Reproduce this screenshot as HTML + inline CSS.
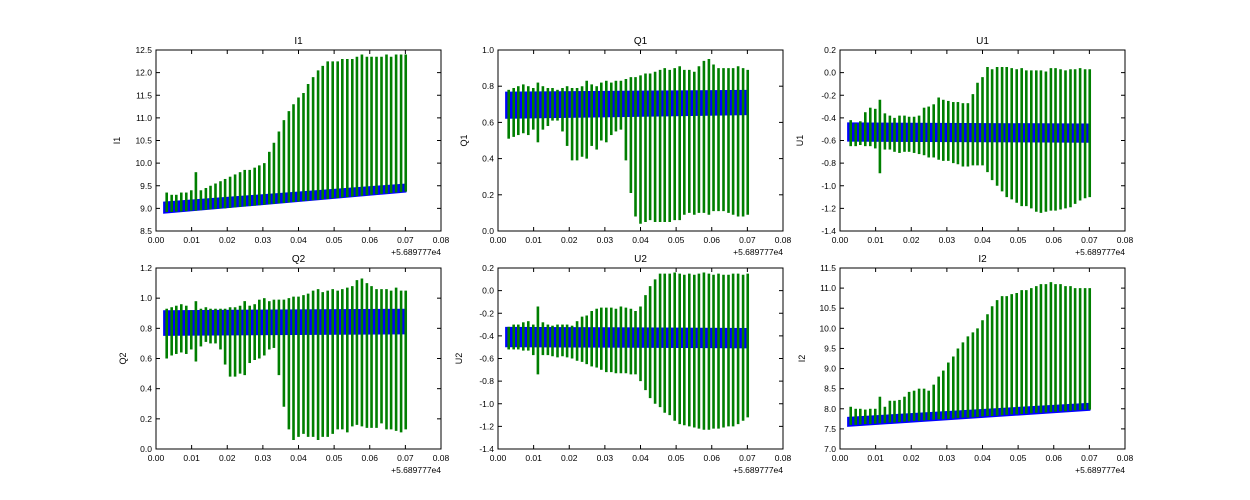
<!DOCTYPE html>
<html><head><meta charset="utf-8"><style>
html,body{margin:0;padding:0;background:#fff;width:1250px;height:500px;overflow:hidden}
svg text{font-family:"Liberation Sans",sans-serif;fill:#000}
</style></head><body>
<svg id="fig" width="1250" height="500" xmlns="http://www.w3.org/2000/svg"></svg>
<script>
const times=[0.0030,0.0044,0.0057,0.0071,0.0085,0.0099,0.0112,0.0126,0.0140,0.0153,0.0167,0.0181,0.0194,0.0208,0.0222,0.0236,0.0249,0.0263,0.0277,0.0290,0.0304,0.0318,0.0331,0.0345,0.0359,0.0373,0.0386,0.0400,0.0414,0.0427,0.0441,0.0455,0.0468,0.0482,0.0496,0.0510,0.0523,0.0537,0.0551,0.0564,0.0578,0.0592,0.0605,0.0619,0.0633,0.0647,0.0660,0.0674,0.0688,0.0701];
const xTicks=[0.00,0.01,0.02,0.03,0.04,0.05,0.06,0.07,0.08];
const xTickLabels=["0.00","0.01","0.02","0.03","0.04","0.05","0.06","0.07","0.08"];
const panelNames=["I1","Q1","U1","Q2","U2","I2"];
const I1hi=[9.35,9.3,9.3,9.35,9.35,9.4,9.8,9.4,9.45,9.5,9.55,9.6,9.65,9.7,9.75,9.8,9.85,9.85,9.9,9.95,10.0,10.25,10.45,10.7,10.95,11.15,11.3,11.45,11.55,11.75,11.9,12.05,12.15,12.25,12.25,12.25,12.3,12.3,12.3,12.35,12.4,12.35,12.35,12.35,12.35,12.4,12.35,12.4,12.4,12.4];
const I1lo=[8.92,8.92,8.93,8.93,8.94,8.95,8.95,8.96,8.97,8.98,8.99,9.0,9.0,9.01,9.02,9.03,9.04,9.05,9.06,9.07,9.08,9.09,9.1,9.11,9.12,9.13,9.14,9.15,9.16,9.17,9.18,9.19,9.2,9.21,9.22,9.23,9.24,9.25,9.26,9.27,9.28,9.29,9.3,9.31,9.32,9.33,9.34,9.35,9.36,9.37];
const I1band=[8.88,9.15,9.35,9.55];
const Q1hi=[0.78,0.79,0.8,0.81,0.8,0.79,0.82,0.8,0.79,0.79,0.78,0.79,0.8,0.79,0.79,0.8,0.83,0.81,0.8,0.82,0.83,0.82,0.83,0.83,0.84,0.85,0.85,0.86,0.87,0.87,0.88,0.89,0.9,0.89,0.9,0.91,0.89,0.89,0.88,0.91,0.94,0.95,0.92,0.9,0.9,0.9,0.9,0.91,0.9,0.89];
const Q1lo=[0.51,0.52,0.53,0.54,0.53,0.56,0.49,0.56,0.58,0.61,0.61,0.55,0.47,0.39,0.39,0.41,0.4,0.47,0.45,0.5,0.49,0.53,0.55,0.56,0.39,0.21,0.08,0.04,0.05,0.06,0.05,0.05,0.05,0.05,0.06,0.06,0.09,0.1,0.09,0.1,0.1,0.09,0.11,0.11,0.11,0.1,0.09,0.08,0.08,0.09];
const Q1band=[0.62,0.77,0.64,0.78];
const U1hi=[-0.42,-0.45,-0.43,-0.35,-0.31,-0.32,-0.24,-0.36,-0.38,-0.4,-0.38,-0.38,-0.39,-0.39,-0.38,-0.31,-0.3,-0.28,-0.22,-0.24,-0.25,-0.26,-0.26,-0.27,-0.27,-0.19,-0.09,-0.04,0.05,0.03,0.05,0.05,0.05,0.04,0.03,0.04,0.02,0.02,0.02,0.02,0.01,0.04,0.04,0.03,0.02,0.03,0.03,0.04,0.03,0.03];
const U1lo=[-0.65,-0.65,-0.64,-0.65,-0.65,-0.67,-0.89,-0.68,-0.68,-0.7,-0.71,-0.7,-0.7,-0.71,-0.72,-0.73,-0.75,-0.75,-0.77,-0.78,-0.78,-0.8,-0.81,-0.83,-0.83,-0.82,-0.82,-0.82,-0.88,-0.95,-1.0,-1.05,-1.1,-1.12,-1.15,-1.18,-1.18,-1.2,-1.23,-1.24,-1.23,-1.22,-1.22,-1.21,-1.2,-1.19,-1.16,-1.13,-1.11,-1.1];
const U1band=[-0.61,-0.44,-0.62,-0.45];
const Q2hi=[0.93,0.94,0.95,0.96,0.95,0.92,0.98,0.93,0.94,0.93,0.93,0.93,0.93,0.94,0.94,0.95,0.98,0.95,0.96,0.99,1.0,0.98,0.99,0.99,0.99,1.0,1.01,1.01,1.02,1.03,1.05,1.06,1.04,1.05,1.06,1.05,1.06,1.07,1.08,1.12,1.13,1.1,1.08,1.06,1.06,1.06,1.05,1.07,1.05,1.05];
const Q2lo=[0.6,0.62,0.63,0.64,0.63,0.66,0.58,0.68,0.71,0.7,0.7,0.66,0.56,0.48,0.48,0.5,0.49,0.57,0.59,0.6,0.62,0.66,0.67,0.49,0.28,0.13,0.06,0.08,0.1,0.08,0.08,0.06,0.08,0.08,0.1,0.13,0.13,0.11,0.15,0.16,0.15,0.14,0.14,0.14,0.17,0.13,0.13,0.12,0.11,0.13];
const Q2band=[0.75,0.92,0.76,0.93];
const U2hi=[-0.32,-0.3,-0.3,-0.28,-0.27,-0.3,-0.14,-0.28,-0.3,-0.31,-0.3,-0.3,-0.3,-0.31,-0.27,-0.23,-0.22,-0.18,-0.16,-0.15,-0.15,-0.15,-0.16,-0.14,-0.15,-0.16,-0.18,-0.14,-0.04,0.04,0.1,0.15,0.15,0.15,0.16,0.15,0.14,0.15,0.14,0.15,0.16,0.15,0.14,0.15,0.14,0.14,0.15,0.15,0.14,0.15];
const U2lo=[-0.52,-0.52,-0.52,-0.53,-0.53,-0.57,-0.74,-0.57,-0.57,-0.58,-0.59,-0.58,-0.59,-0.6,-0.62,-0.63,-0.65,-0.67,-0.68,-0.7,-0.72,-0.72,-0.73,-0.73,-0.73,-0.74,-0.74,-0.8,-0.88,-0.95,-1.0,-1.03,-1.08,-1.1,-1.15,-1.18,-1.19,-1.2,-1.21,-1.22,-1.23,-1.23,-1.22,-1.22,-1.21,-1.2,-1.2,-1.18,-1.15,-1.12];
const U2band=[-0.5,-0.32,-0.51,-0.33];
const I2hi=[8.05,8.0,8.0,7.98,8.0,8.0,8.3,8.05,8.2,8.2,8.22,8.3,8.42,8.45,8.5,8.5,8.45,8.6,8.8,8.95,9.15,9.3,9.5,9.65,9.8,9.9,10.0,10.2,10.35,10.55,10.7,10.8,10.8,10.85,10.88,10.95,10.95,11.0,11.05,11.1,11.1,11.15,11.1,11.1,11.05,11.05,11.0,11.0,11.0,11.0];
const I2lo=[7.6,7.6,7.61,7.62,7.62,7.63,7.64,7.65,7.66,7.66,7.67,7.68,7.69,7.7,7.7,7.71,7.72,7.73,7.74,7.74,7.75,7.76,7.77,7.78,7.78,7.79,7.8,7.81,7.82,7.82,7.83,7.84,7.85,7.86,7.86,7.87,7.88,7.89,7.9,7.9,7.91,7.92,7.93,7.94,7.94,7.95,7.96,7.97,7.98,7.98];
const I2band=[7.55,7.8,7.95,8.15];
const I1ticks=[8.5,9.0,9.5,10.0,10.5,11.0,11.5,12.0,12.5];
const Q1ticks=[0.0,0.2,0.4,0.6,0.8,1.0];
const U1ticks=[-1.4,-1.2,-1.0,-0.8,-0.6,-0.4,-0.2,0.0,0.2];
const Q2ticks=[0.0,0.2,0.4,0.6,0.8,1.0,1.2];
const U2ticks=[-1.4,-1.2,-1.0,-0.8,-0.6,-0.4,-0.2,0.0,0.2];
const I2ticks=[7.0,7.5,8.0,8.5,9.0,9.5,10.0,10.5,11.0,11.5];

const NS="http://www.w3.org/2000/svg";
const svg=document.getElementById('fig');
function mk(tag,attrs,parent){const e=document.createElementNS(NS,tag);for(const k in attrs)e.setAttribute(k,attrs[k]);(parent||svg).appendChild(e);return e;}

const panels=[
 {name:"I1",hi:I1hi,lo:I1lo,band:I1band,ticks:I1ticks,dec:1,x0:156,y0:50,ylx:120},
 {name:"Q1",hi:Q1hi,lo:Q1lo,band:Q1band,ticks:Q1ticks,dec:1,x0:498,y0:50,ylx:467},
 {name:"U1",hi:U1hi,lo:U1lo,band:U1band,ticks:U1ticks,dec:1,x0:840,y0:50,ylx:803},
 {name:"Q2",hi:Q2hi,lo:Q2lo,band:Q2band,ticks:Q2ticks,dec:1,x0:156,y0:268,ylx:126},
 {name:"U2",hi:U2hi,lo:U2lo,band:U2band,ticks:U2ticks,dec:1,x0:498,y0:268,ylx:462},
 {name:"I2",hi:I2hi,lo:I2lo,band:I2band,ticks:I2ticks,dec:1,x0:840,y0:268,ylx:805}
];
const W=285,H=181;
panels.forEach(p=>{
  const g=mk('g',{});
  
  
  const ymin=p.ticks[0],ymax=p.ticks[p.ticks.length-1];
  const sx=v=>p.x0+(v-0)/(0.08)*W;
  const sy=v=>p.y0+H-(v-ymin)/(ymax-ymin)*H;
  const b=p.band;
  const tA=0.002,tB=0.0703;
  const band=mk('polygon',{points:`${sx(tA)},${sy(b[1])} ${sx(tB)},${sy(b[3])} ${sx(tB)},${sy(b[2])} ${sx(tA)},${sy(b[0])}`,fill:'#0000ff'},g);
  
  
  times.forEach((t,i)=>{
    const x=sx(t);
    const l=mk('line',{x1:x,x2:x,y1:sy(p.lo[i]),y2:sy(p.hi[i]),stroke:'#007f00','stroke-width':2.6},g);
    
    
  });
  const fr=mk('rect',{x:p.x0,y:p.y0,width:W,height:H,fill:'none',stroke:'#000','stroke-width':1},g);
  
  
  xTicks.forEach((v,i)=>{
    const x=sx(v);
    mk('line',{x1:x,x2:x,y1:p.y0+H,y2:p.y0+H-4,stroke:'#000'},g);
    mk('line',{x1:x,x2:x,y1:p.y0,y2:p.y0+4,stroke:'#000'},g);
    const tx=mk('text',{x:x,y:p.y0+H+12,'font-size':8.5,'text-anchor':'middle'},g);
    tx.textContent=xTickLabels[i];
    
    
  });
  p.ticks.forEach(v=>{
    const y=sy(v);
    mk('line',{x1:p.x0,x2:p.x0+4,y1:y,y2:y,stroke:'#000'},g);
    mk('line',{x1:p.x0+W,x2:p.x0+W-4,y1:y,y2:y,stroke:'#000'},g);
    const ty=mk('text',{x:p.x0-4,y:y+3,'font-size':8.5,'text-anchor':'end'},g);
    ty.textContent=v.toFixed(p.dec);
    
    
  });
  const off=mk('text',{x:p.x0+W,y:p.y0+H+24,'font-size':8.5,'text-anchor':'end'},g);
  off.textContent='+5.689777e4';
  
  
  const ti=mk('text',{x:p.x0+W/2,y:p.y0-6,'font-size':10,'text-anchor':'middle'},g);
  ti.textContent=p.name;
  
  
  const yl=mk('text',{x:p.ylx,y:p.y0+H/2,'font-size':9,'text-anchor':'middle',transform:`rotate(-90 ${p.ylx} ${p.y0+H/2})`},g);
  yl.textContent=p.name;
  
  
});
</script>
</body></html>
